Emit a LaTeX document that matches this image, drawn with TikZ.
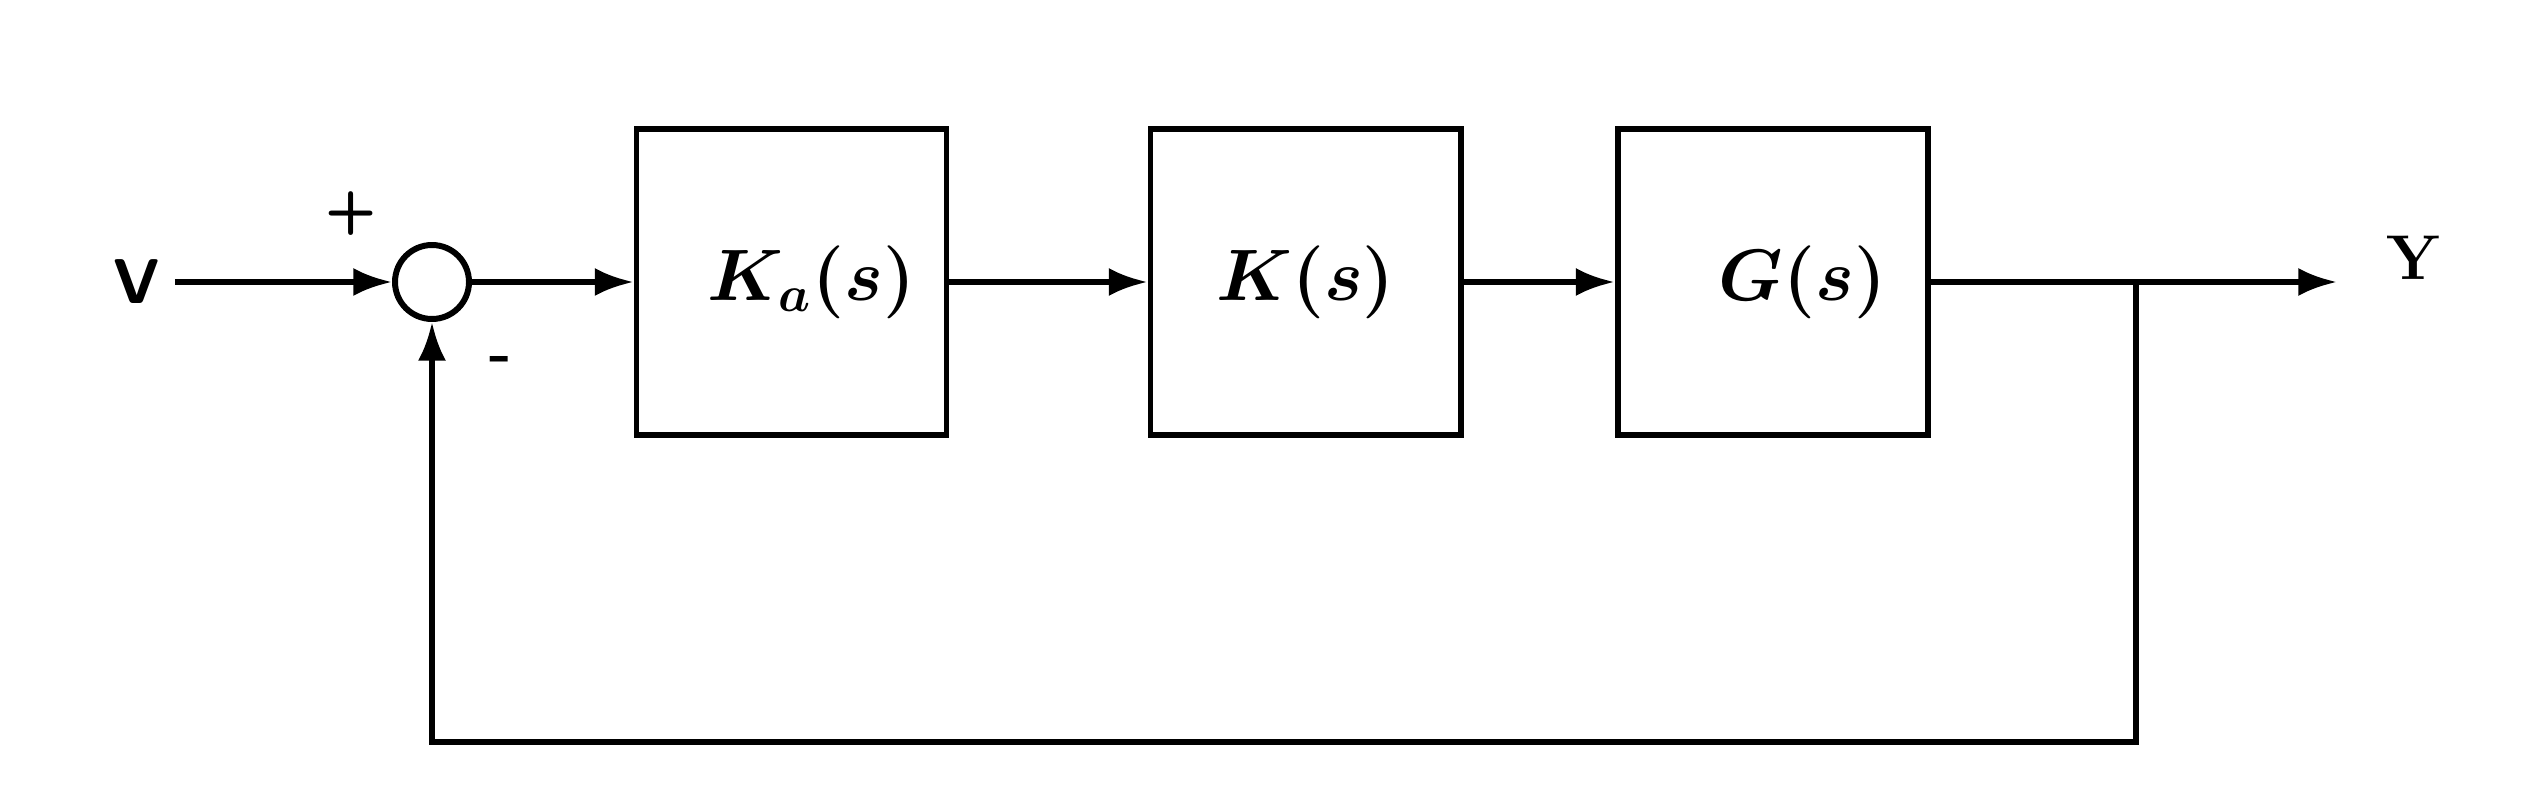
\documentclass[tikz,border=0pt]{standalone}
\usepackage{amsmath}
\usetikzlibrary{arrows.meta}

\begin{document}
\begin{tikzpicture}[line width=1.7pt,>={Latex[length=11pt,width=8pt]},
  block/.style={draw,minimum width=3.1cm,minimum height=3.06cm,
    font=\fontsize{20}{24}\selectfont\boldmath},
  sumnode/.style={draw,circle,minimum size=0.74cm,inner sep=0pt},
  sign/.style={font=\fontsize{17}{19}\selectfont\bfseries},
  signal/.style={font=\fontsize{18}{21}\selectfont\bfseries}]%<<<
\useasboundingbox (0,0) rectangle (25.28,8.02);
\node[signal] (v) at (1.37,5.20) {\sffamily V};
\node[sumnode] (sum) at (4.32,5.20) {};
\node[sign] (plus) at (3.51,5.88) {\sffamily +};
\node[sign] (minus) at (5.01,4.38) {-};
\node[block] (ka) at (7.915,5.20) {\hspace{0.4cm}$K_a(s)$};
\node[block] (k) at (13.055,5.20) {$K(s)$};
\node[block] (g) at (17.725,5.20) {\hspace{0.6cm}$G(s)$};
\node[signal] (y) at (24.13,5.44) {\rmfamily Y};
\coordinate (br) at (21.36,5.20);
\coordinate (out) at (23.37,5.20);
\coordinate (fb) at (4.32,0.60);
\draw[->] (v) -- (sum);
\draw[->] (sum) -- (ka);
\draw[->] (ka) -- (k);
\draw[->] (k) -- (g);
\draw[->] (g) -- (out);
\draw[->] (br) |- (fb) -- (sum);
\end{tikzpicture}
\end{document}
